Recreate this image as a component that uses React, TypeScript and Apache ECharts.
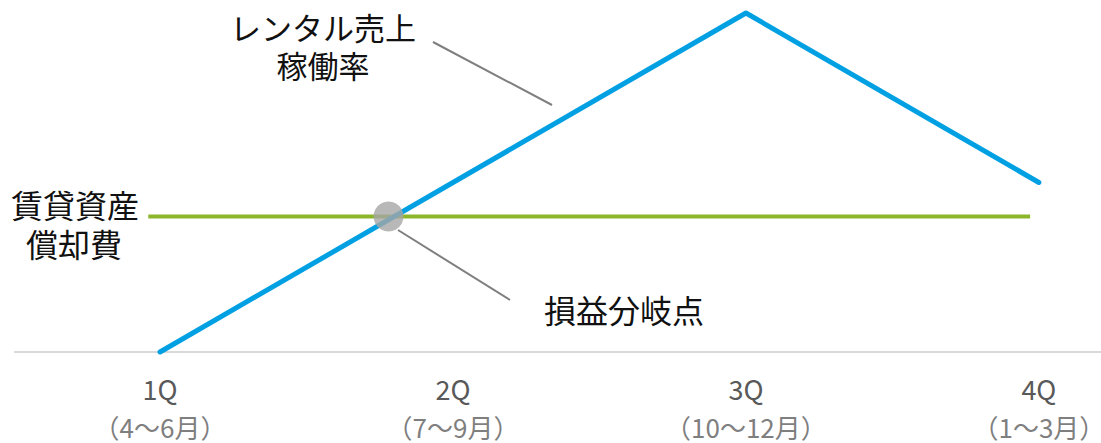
import React, { useEffect, useRef } from "react";
import * as echarts from "echarts";

const quarters = ["1Q", "2Q", "3Q", "4Q"];
const months = ["（4〜6月）", "（7〜9月）", "（10〜12月）", "（1〜3月）"];
const quarterPos = [0, 1, 2, 3];
const rentalRate = [0, 50, 100, 50];
const depreciationX = [-0.04, 2.97];
const depreciationValue = 40;
const breakEven = [0.78, 40];

const FONT = '"Noto Sans CJK JP", "Noto Sans", sans-serif';

function label(text: string, x: number, y: number, size: number) {
  return {
    type: "text",
    x,
    y,
    style: {
      text,
      fontSize: size,
      lineHeight: 32,
      fontFamily: FONT,
      fill: "#111111",
      align: "center",
      verticalAlign: "middle",
    },
  };
}

export default function App() {
  const ref = useRef<HTMLDivElement>(null);
  useEffect(() => {
    if (!ref.current) return;
    const chart = echarts.init(ref.current, null, { renderer: "svg" });
    chart.setOption({
      animation: false,
      backgroundColor: "#ffffff",
      textStyle: { fontFamily: FONT },
      grid: {
        left: 15,
        right: 0,
        top: 13,
        bottom: 91,
        containLabel: false,
        outerBoundsMode: "none",
      },
      xAxis: {
        type: "value",
        min: -0.495,
        max: 3.212,
        splitLine: { show: false },
        axisTick: { show: false },
        axisLine: { show: true, lineStyle: { color: "#D9D9D9", width: 2 } },
        axisLabel: {
          customValues: quarterPos,
          margin: 11,
          hideOverlap: false,
          formatter: (v: number) => {
            const i = Math.round(v);
            return `{a|${quarters[i]}}\n{b|${months[i]}}`;
          },
          rich: {
            a: { fontSize: 27, color: "#595959", lineHeight: 50, fontFamily: FONT },
            b: { fontSize: 26, color: "#7F7F7F", lineHeight: 26, fontFamily: FONT },
          },
        },
      },
      yAxis: { type: "value", min: 0, max: 100, show: false },
      series: [
        {
          type: "line",
          data: depreciationX.map((x) => [x, depreciationValue]),
          symbol: "none",
          clip: false,
          lineStyle: { color: "#8CB52A", width: 4 },
          z: 2,
        },
        {
          type: "line",
          data: quarterPos.map((x, i) => [x, rentalRate[i]]),
          symbol: "none",
          clip: false,
          lineStyle: { color: "#00A0E3", width: 5, cap: "round", join: "round" },
          z: 3,
        },
        {
          type: "scatter",
          data: [breakEven],
          symbolSize: 30,
          itemStyle: { color: "#A6A6A6" },
          z: 4,
        },
      ],
      graphic: [
        label("レンタル売上", 323, 26, 31),
        label("稼働率", 323, 64, 31),
        {
          type: "line",
          shape: { x1: 433, y1: 42, x2: 552, y2: 105 },
          style: { stroke: "#7F7F7F", lineWidth: 2 },
        },
        label("賃貸資産", 75, 204, 32),
        label("償却費", 74, 243, 32),
        {
          type: "line",
          shape: { x1: 398, y1: 230, x2: 510, y2: 300 },
          style: { stroke: "#7F7F7F", lineWidth: 2 },
        },
        label("損益分岐点", 624, 309, 32),
      ],
    });
    return () => chart.dispose();
  }, []);
  return (
    <div
      ref={ref}
      style={{ position: "fixed", left: 0, top: 0, width: 1101, height: 443 }}
    />
  );
}
